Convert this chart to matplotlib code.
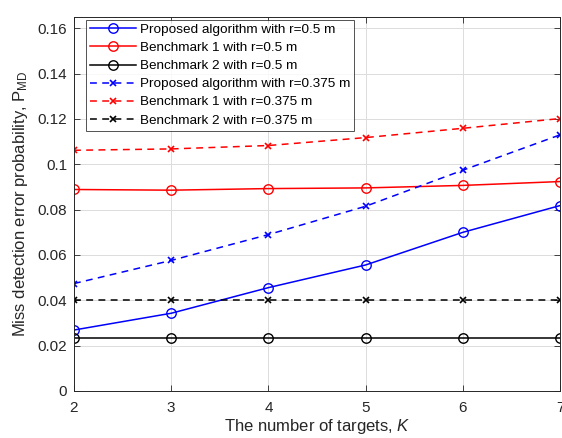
import matplotlib
matplotlib.use("Agg")
from matplotlib import pyplot as plt

plt.rcParams['font.family'] = ['Liberation Sans', 'DejaVu Sans']
plt.rcParams['mathtext.fontset'] = 'custom'
plt.rcParams['mathtext.rm'] = 'Liberation Sans'
plt.rcParams['mathtext.it'] = 'Liberation Sans:italic'

# number of targets
K = [2, 3, 4, 5, 6, 7]

# r = 0.5 m
proposed_05 = [0.0269, 0.0343, 0.0456, 0.0556, 0.0700, 0.0818]
bench1_05 = [0.0889, 0.0886, 0.0893, 0.0896, 0.0907, 0.0924]
bench2_05 = [0.0235, 0.0235, 0.0235, 0.0235, 0.0235, 0.0235]

# r = 0.375 m
proposed_0375 = [0.0474, 0.0576, 0.0690, 0.0815, 0.0974, 0.1130]
bench1_0375 = [0.1062, 0.1068, 0.1083, 0.1118, 0.1159, 0.1202]
bench2_0375 = [0.0403, 0.0403, 0.0403, 0.0403, 0.0403, 0.0403]

yticks = [0, 0.02, 0.04, 0.06, 0.08, 0.1, 0.12, 0.14, 0.16]
ytick_labels = ['0', '0.02', '0.04', '0.06', '0.08', '0.1', '0.12', '0.14', '0.16']

fig = plt.figure(figsize=(5.62, 4.38), dpi=100)
ax = fig.add_axes([74/562, 47/438, 486/562, 374/438])

circ = dict(marker='o', markersize=6.8, markerfacecolor='none', markeredgewidth=1.0, linewidth=1.1)
cross = dict(marker='x', markersize=5, markeredgewidth=1.2, linewidth=1.1, linestyle=(0, (4.5, 3.5)))

ax.plot(K, proposed_05, color='#0000ff', label='Proposed algorithm with r=0.5 m', **circ)
ax.plot(K, bench1_05, color='#ff0000', label='Benchmark 1 with r=0.5 m', **circ)
ax.plot(K, bench2_05, color='#000000', label='Benchmark 2 with r=0.5 m', **circ)
ax.plot(K, proposed_0375, color='#0000ff', label='Proposed algorithm with r=0.375 m', **cross)
ax.plot(K, bench1_0375, color='#ff0000', label='Benchmark 1 with r=0.375 m', **cross)
ax.plot(K, bench2_0375, color='#000000', label='Benchmark 2 with r=0.375 m', **cross)

ax.set_xlim(2, 7)
ax.set_ylim(0, 0.165)
ax.set_xticks(K)
ax.set_yticks(yticks)
ax.set_yticklabels(ytick_labels)
ax.tick_params(direction='in', top=True, right=True, labelsize=11, colors='#262626',
               length=4, width=0.6, pad=5)
ax.tick_params(axis='x', pad=7)
for s in ax.spines.values():
    s.set_color('#262626')
    s.set_linewidth(0.7)
ax.grid(True, color='#dcdcdc', linewidth=0.7)
ax.set_axisbelow(True)

ax.set_xlabel('The number of targets, $\\mathit{K}$', fontsize=12, color='#262626', labelpad=2)
ax.set_ylabel('Miss detection error probability, P$_{\\mathrm{MD}}$', fontsize=12, color='#262626', labelpad=5)

leg = ax.legend(loc='upper left', bbox_to_anchor=(0.024, 0.993), fontsize=9.7, frameon=True, fancybox=False,
                edgecolor='#262626', handlelength=3.4, handletextpad=0.3, labelspacing=0.42,
                borderpad=0.3, borderaxespad=0.0)
leg.get_frame().set_linewidth(0.7)

plt.savefig('out.png', dpi=100)
